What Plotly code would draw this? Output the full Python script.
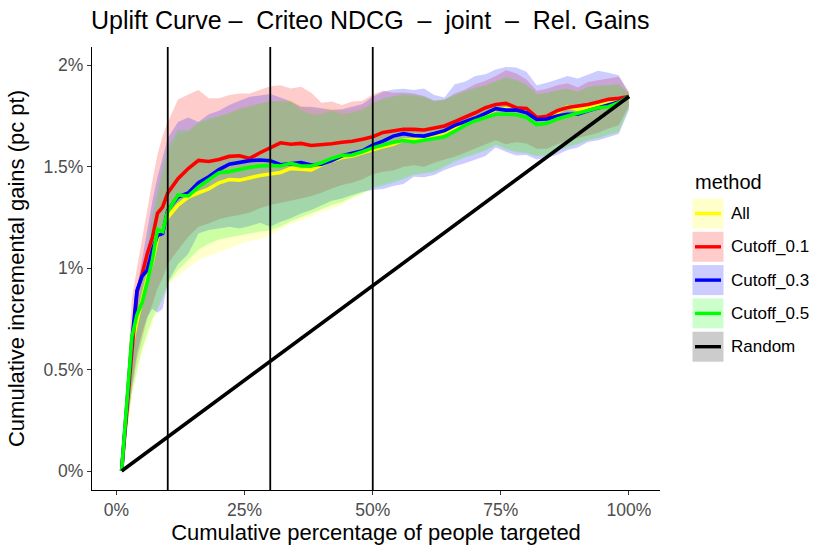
import plotly.graph_objects as go

# ---------------- data (percent units) ----------------
x_pct = [1, 2, 3, 4, 5, 6, 7, 8, 9, 10,
         12, 14, 16, 18, 20, 22, 24, 26, 28, 30,
         32, 34, 36, 38, 40, 42, 44, 46, 48, 50,
         52, 54, 56, 58, 60, 62, 64, 66, 68, 70,
         72, 74, 76, 78, 80, 82, 84, 86, 88, 90,
         92, 94, 96, 98, 100]

all_mean = [0, 0.30, 0.62, 0.74, 0.84, 0.95, 1.03, 1.15, 1.19, 1.25,
            1.31, 1.35, 1.37, 1.39, 1.42, 1.436, 1.433, 1.446, 1.456, 1.463,
            1.471, 1.491, 1.489, 1.483, 1.508, 1.529, 1.545, 1.552, 1.568, 1.584,
            1.597, 1.61, 1.63, 1.632, 1.637, 1.65, 1.666, 1.695, 1.716, 1.737,
            1.758, 1.781, 1.786, 1.778, 1.775, 1.737, 1.742, 1.765, 1.795, 1.781,
            1.791, 1.803, 1.815, 1.824, 1.845]
all_upper = [0, 0.32, 0.62, 0.78, 0.92, 1.06, 1.20, 1.33, 1.45, 1.56,
             1.66, 1.67, 1.71, 1.73, 1.745, 1.765, 1.79, 1.80, 1.81, 1.82,
             1.825, 1.83, 1.80, 1.785, 1.78, 1.79, 1.775, 1.78, 1.79, 1.815,
             1.83, 1.845, 1.85, 1.85, 1.84, 1.82, 1.825, 1.85, 1.87, 1.885,
             1.90, 1.92, 1.935, 1.925, 1.90, 1.86, 1.86, 1.875, 1.885, 1.87,
             1.89, 1.895, 1.90, 1.905, 1.86]
all_lower = [0, 0.18, 0.36, 0.48, 0.58, 0.66, 0.73, 0.80, 0.87, 0.92,
             0.96, 1.00, 1.04, 1.06, 1.08, 1.097, 1.118, 1.135, 1.141, 1.163,
             1.191, 1.217, 1.236, 1.253, 1.277, 1.294, 1.31, 1.343, 1.364, 1.40,
             1.415, 1.43, 1.445, 1.465, 1.47, 1.48, 1.505, 1.53, 1.55, 1.565,
             1.585, 1.61, 1.59, 1.575, 1.57, 1.555, 1.56, 1.58, 1.60, 1.615,
             1.635, 1.645, 1.66, 1.675, 1.795]

c01_mean = [0, 0.30, 0.62, 0.88, 0.97, 1.07, 1.15, 1.27, 1.30, 1.37,
            1.44, 1.49, 1.53, 1.525, 1.535, 1.55, 1.553, 1.54, 1.568, 1.594,
            1.617, 1.61, 1.614, 1.604, 1.606, 1.612, 1.62, 1.625, 1.635, 1.647,
            1.668, 1.677, 1.684, 1.683, 1.68, 1.69, 1.70, 1.721, 1.742, 1.765,
            1.79, 1.806, 1.811, 1.79, 1.786, 1.742, 1.748, 1.775, 1.791, 1.798,
            1.806, 1.818, 1.831, 1.836, 1.845]
c01_upper = [0, 0.40, 0.85, 1.00, 1.15, 1.30, 1.43, 1.56, 1.65, 1.72,
             1.83, 1.855, 1.877, 1.836, 1.836, 1.852, 1.86, 1.86, 1.877, 1.896,
             1.901, 1.885, 1.893, 1.864, 1.814, 1.82, 1.803, 1.82, 1.824, 1.855,
             1.873, 1.863, 1.865, 1.86, 1.847, 1.824, 1.83, 1.86, 1.88, 1.906,
             1.923, 1.946, 1.975, 1.958, 1.929, 1.873, 1.883, 1.90, 1.91, 1.89,
             1.916, 1.926, 1.934, 1.943, 1.869]
c01_lower = [0, 0.20, 0.40, 0.55, 0.65, 0.75, 0.82, 0.90, 0.95, 1.02,
             1.089, 1.154, 1.204, 1.22, 1.24, 1.253, 1.261, 1.273, 1.294, 1.31,
             1.322, 1.332, 1.343, 1.355, 1.371, 1.392, 1.409, 1.42, 1.437, 1.462,
             1.474, 1.481, 1.499, 1.506, 1.499, 1.519, 1.535, 1.548, 1.571, 1.591,
             1.61, 1.63, 1.61, 1.62, 1.614, 1.588, 1.588, 1.61, 1.627, 1.643,
             1.653, 1.666, 1.688, 1.703, 1.80]

c03_mean = [0, 0.32, 0.64, 0.89, 0.96, 0.99, 1.09, 1.16, 1.17, 1.285,
            1.35, 1.37, 1.42, 1.45, 1.485, 1.512, 1.522, 1.529, 1.532, 1.529,
            1.509, 1.516, 1.519, 1.508, 1.512, 1.529, 1.553, 1.565, 1.578, 1.605,
            1.625, 1.65, 1.662, 1.653, 1.65, 1.663, 1.677, 1.703, 1.719, 1.739,
            1.762, 1.785, 1.778, 1.778, 1.765, 1.732, 1.734, 1.749, 1.758, 1.758,
            1.775, 1.79, 1.803, 1.818, 1.845]
c03_upper = [0, 0.35, 0.70, 0.90, 1.05, 1.20, 1.33, 1.45, 1.55, 1.64,
             1.72, 1.742, 1.72, 1.758, 1.775, 1.803, 1.824, 1.844, 1.85, 1.857,
             1.84, 1.82, 1.795, 1.795, 1.787, 1.778, 1.782, 1.795, 1.808, 1.844,
             1.869, 1.88, 1.883, 1.877, 1.885, 1.852, 1.84, 1.906, 1.918, 1.946,
             1.955, 1.978, 1.991, 1.988, 1.967, 1.901, 1.913, 1.929, 1.946, 1.934,
             1.955, 1.972, 1.962, 1.95, 1.86]
c03_lower = [0, 0.22, 0.42, 0.58, 0.68, 0.76, 0.80, 0.78, 0.80, 0.93,
             1.02, 1.07, 1.17, 1.187, 1.195, 1.204, 1.195, 1.207, 1.223, 1.204,
             1.228, 1.245, 1.269, 1.286, 1.31, 1.332, 1.343, 1.36, 1.376, 1.384,
             1.39, 1.404, 1.414, 1.45, 1.447, 1.458, 1.483, 1.502, 1.516, 1.532,
             1.552, 1.594, 1.573, 1.555, 1.557, 1.535, 1.543, 1.558, 1.581, 1.594,
             1.621, 1.63, 1.644, 1.66, 1.78]

c05_mean = [0, 0.32, 0.66, 0.77, 0.83, 0.93, 1.04, 1.19, 1.18, 1.28,
            1.36, 1.355, 1.40, 1.435, 1.47, 1.475, 1.486, 1.496, 1.503, 1.506,
            1.503, 1.516, 1.503, 1.503, 1.519, 1.54, 1.555, 1.557, 1.573, 1.592,
            1.606, 1.62, 1.628, 1.621, 1.63, 1.64, 1.647, 1.673, 1.703, 1.726,
            1.742, 1.758, 1.758, 1.755, 1.742, 1.707, 1.713, 1.734, 1.749, 1.762,
            1.778, 1.79, 1.795, 1.815, 1.845]
c05_upper = [0, 0.33, 0.65, 0.80, 0.95, 1.10, 1.26, 1.38, 1.50, 1.60,
             1.683, 1.677, 1.72, 1.737, 1.749, 1.762, 1.782, 1.795, 1.808, 1.824,
             1.82, 1.82, 1.778, 1.758, 1.758, 1.775, 1.758, 1.765, 1.778, 1.81,
             1.836, 1.847, 1.857, 1.852, 1.844, 1.824, 1.83, 1.852, 1.873, 1.89,
             1.901, 1.923, 1.943, 1.929, 1.906, 1.857, 1.863, 1.877, 1.883, 1.869,
             1.893, 1.90, 1.901, 1.906, 1.863]
c05_lower = [0, 0.20, 0.38, 0.50, 0.60, 0.68, 0.75, 0.80, 0.85, 0.92,
             0.99, 1.04, 1.09, 1.12, 1.14, 1.15, 1.16, 1.17, 1.18, 1.185,
             1.205, 1.23, 1.25, 1.27, 1.29, 1.31, 1.325, 1.35, 1.37, 1.392,
             1.407, 1.42, 1.437, 1.458, 1.466, 1.472, 1.496, 1.524, 1.545, 1.56,
             1.578, 1.606, 1.585, 1.57, 1.565, 1.55, 1.555, 1.575, 1.595, 1.61,
             1.63, 1.64, 1.655, 1.67, 1.79]

random_x = [1, 100]
random_y = [0, 1.845]

cutoff_lines = [10, 30, 50]

methods = ["All", "Cutoff_0.1", "Cutoff_0.3", "Cutoff_0.5", "Random"]
x_ticks = [0, 25, 50, 75, 100]
x_tick_text = ["0%", "25%", "50%", "75%", "100%"]
y_ticks = [0, 0.5, 1, 1.5, 2]
y_tick_text = ["0%", "0.5%", "1%", "1.5%", "2%"]

# ---------------- styles ----------------
line_colors = {"All": "#FFFF00", "Cutoff_0.1": "#FF0000", "Cutoff_0.3": "#0000FF",
               "Cutoff_0.5": "#00FF00", "Random": "#000000"}
fill_colors = {"All": "rgba(255,255,0,0.2)", "Cutoff_0.1": "rgba(255,0,0,0.2)",
               "Cutoff_0.3": "rgba(0,0,255,0.2)", "Cutoff_0.5": "rgba(0,255,0,0.2)",
               "Random": "rgba(0,0,0,0.2)"}
key_fill = {"All": "#FFFFCC", "Cutoff_0.1": "#FFCCCC", "Cutoff_0.3": "#CCCCFF",
            "Cutoff_0.5": "#CCFFCC", "Random": "#CCCCCC"}

series = {
    "All": (all_mean, all_lower, all_upper),
    "Cutoff_0.1": (c01_mean, c01_lower, c01_upper),
    "Cutoff_0.3": (c03_mean, c03_lower, c03_upper),
    "Cutoff_0.5": (c05_mean, c05_lower, c05_upper),
}

FONT = "Liberation Sans, Arial, Helvetica, sans-serif"
W, H = 830, 554
# panel edges in screen pixels
L, R, T, B = 92, 660, 47, 490


def px(v):
    return (v - L) / (R - L)


def py(v):
    return (B - v) / (B - T)


fig = go.Figure()

# ribbons
for m, (mean, lo, up) in series.items():
    fig.add_trace(go.Scatter(
        x=x_pct + x_pct[::-1], y=up + lo[::-1], mode="lines", fill="toself",
        fillcolor=fill_colors[m], line=dict(width=0, color=fill_colors[m]),
        hoverinfo="skip", showlegend=False))

# lines
for m, (mean, lo, up) in series.items():
    fig.add_trace(go.Scatter(
        x=x_pct, y=mean, mode="lines", name=m,
        line=dict(color=line_colors[m], width=3.6), showlegend=False))

fig.add_trace(go.Scatter(x=random_x, y=random_y, mode="lines", name="Random",
                         line=dict(color="#000000", width=3.6), showlegend=False))

shapes = []
for v in cutoff_lines:
    shapes.append(dict(type="line", xref="x", yref="paper", x0=v, x1=v, y0=0, y1=1,
                       line=dict(color="black", width=1.8), layer="above"))

# manual legend (ggplot-style keys)
annotations = [dict(text="method", x=px(693), y=py(182), xref="paper", yref="paper",
                    xanchor="left", yanchor="middle", showarrow=False,
                    font=dict(size=20, color="black", family=FONT))]
key_top = 198.5
for i, m in enumerate(methods):
    y0 = key_top + i * 33.3
    yc = y0 + 15
    shapes.append(dict(type="rect", xref="paper", yref="paper",
                       x0=px(692.5), x1=px(723.5), y0=py(y0 + 30), y1=py(y0),
                       fillcolor=key_fill[m], line=dict(width=0), layer="above"))
    shapes.append(dict(type="line", xref="paper", yref="paper",
                       x0=px(695), x1=px(721), y0=py(yc), y1=py(yc),
                       line=dict(color=line_colors[m], width=3.4), layer="above"))
    annotations.append(dict(text=m, x=px(729), y=py(yc), xref="paper", yref="paper",
                            xanchor="left", yanchor="middle", showarrow=False,
                            font=dict(size=17, color="black", family=FONT)))

# title as annotation so it can start slightly left of the panel
annotations.append(dict(
    text="Uplift Curve –\u00a0\u00a0Criteo NDCG\u00a0\u00a0–\u00a0\u00a0joint\u00a0\u00a0–\u00a0\u00a0Rel. Gains",
    x=px(89), y=py(20), xref="paper", yref="paper", xanchor="left", yanchor="middle",
    showarrow=False, font=dict(size=25, color="black", family=FONT)))

fig.update_layout(
    width=W, height=H,
    margin=dict(l=L, r=W - R, t=T, b=H - B, autoexpand=False),
    paper_bgcolor="white", plot_bgcolor="white",
    font=dict(family=FONT, color="black"),
    shapes=shapes,
    annotations=annotations,
    showlegend=False,
    xaxis=dict(range=[-4.78, 106.05], showgrid=False, zeroline=False,
               showline=True, linecolor="black", linewidth=1.2,
               ticks="outside", ticklen=4, tickwidth=1, tickcolor="#333333",
               tickvals=x_ticks, ticktext=x_tick_text,
               tickfont=dict(size=17.5, color="#4D4D4D", family=FONT),
               title=dict(text="Cumulative percentage of people targeted",
                          font=dict(size=22, color="black", family=FONT), standoff=1)),
    yaxis=dict(range=[-0.0936, 2.089], showgrid=False, zeroline=False,
               showline=True, linecolor="black", linewidth=1.2,
               ticks="outside", ticklen=4, tickwidth=1, tickcolor="#333333",
               tickvals=y_ticks, ticktext=y_tick_text,
               tickfont=dict(size=17.5, color="#4D4D4D", family=FONT),
               title=dict(text="Cumulative incremental gains (pc pt)",
                          font=dict(size=22, color="black", family=FONT), standoff=12)),
)

# remove the browser's default page margin so the 830x554 figure fills the window
fig.write_html("out.html",
               config={"displayModeBar": False},
               post_script="document.body.style.margin='0';document.body.style.overflow='hidden';")
